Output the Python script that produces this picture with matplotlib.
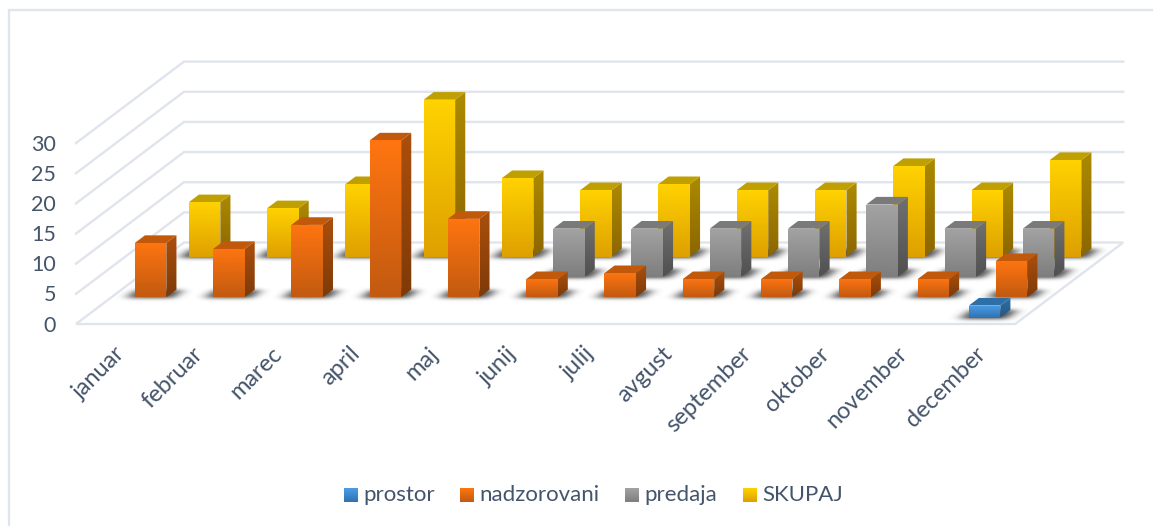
import numpy as np
import matplotlib
matplotlib.use("Agg")
import matplotlib.pyplot as plt
from matplotlib.patches import Polygon
from matplotlib.colors import LinearSegmentedColormap

months = ["januar", "februar", "marec", "april", "maj", "junij", "julij",
          "avgust", "september", "oktober", "november", "december"]
series_names = ["prostor", "nadzorovani", "predaja", "SKUPAJ"]
prostor = [0, 0, 0, 0, 0, 0, 0, 0, 0, 0, 0, 2]
nadzorovani = [9, 8, 12, 26, 13, 3, 4, 3, 3, 3, 3, 6]
predaja = [0, 0, 0, 0, 0, 8, 8, 8, 8, 12, 8, 8]
skupaj = [9, 8, 12, 26, 13, 11, 12, 11, 11, 15, 11, 16]
all_values = [prostor, nadzorovani, predaja, skupaj]
y_ticks = [0, 5, 10, 15, 20, 25, 30]

front_cols = [("#4A9DE8", "#2F72B0"), ("#FF7510", "#C25A10"),
              ("#A3A3A3", "#7E7E7E"), ("#FFD200", "#DEA000")]
side_cols = [("#2F6FA8", "#25577F"), ("#AB4F0C", "#7E3A08"),
             ("#707070", "#505050"), ("#AC8A00", "#8C6600")]
top_cols = ["#2E6FA8", "#C2580A", "#7A7A7A", "#C0A000"]

GRID = "#E0E4EC"
TXT = "#44546A"
plt.rcParams["font.family"] = ["Lato", "DejaVu Sans"]

fig = plt.figure(figsize=(11.53, 5.26), dpi=100)
ax = fig.add_axes([0, 0, 1, 1])

X0, Y0 = 76.0, 324.0
CAT_W = 78.27
DX, DY = 108.0, 81.5
U = 6.03
BAR_W = 31.5
DEPTH_N = 4
BAR_D = 0.375


def proj(cat, depth, val):
    """cat in category units, depth in series units, val in value units."""
    return (X0 + cat * CAT_W + depth / DEPTH_N * DX,
            Y0 - depth / DEPTH_N * DY - val * U)


def grad_img(c1, c2):
    cm = LinearSegmentedColormap.from_list("g", [c1, c2])
    return cm(np.linspace(0, 1, 64))[:, None, :]


def gradient_poly(pts, c1, c2, z):
    pts = np.array(pts)
    im = ax.imshow(grad_img(c1, c2),
                   extent=(pts[:, 0].min(), pts[:, 0].max(), pts[:, 1].max(), pts[:, 1].min()),
                   aspect="auto", zorder=z, interpolation="bilinear")
    clip = Polygon(pts, closed=True, transform=ax.transData, fc="none", ec="none")
    ax.add_patch(clip)
    im.set_clip_path(clip)


def gauss(sigma):
    r = int(3 * sigma) + 1
    k = np.exp(-0.5 * (np.arange(-r, r + 1) / sigma) ** 2)
    return k / k.sum()


KX, KY = gauss(5.5), gauss(1.8)


def soft_shadow(a, b, d, z, peak=0.72):
    """Blurred parallelogram on the floor: a, b are the near corners, d the far-left one."""
    xs = np.arange(int(a[0]) - 40, int(b[0]) + int(d[0] - a[0]) + 41)
    ys = np.arange(int(d[1]) - 10, int(a[1]) + 11)
    gx, gy = np.meshgrid(xs + 0.5, ys + 0.5)
    t = (a[1] - gy) / (a[1] - d[1])
    left = a[0] + t * (d[0] - a[0])
    mask = ((t >= 0) & (t <= 1) & (gx >= left) & (gx <= left + (b[0] - a[0]))).astype(float)
    mask = np.apply_along_axis(lambda r: np.convolve(r, KX, mode="same"), 1, mask)
    mask = np.apply_along_axis(lambda c: np.convolve(c, KY, mode="same"), 0, mask)
    rgba = np.zeros(mask.shape + (4,))
    rgba[..., :3] = 0.22
    rgba[..., 3] = np.clip(mask * peak * 1.25, 0, 1)
    ax.imshow(rgba, extent=(xs[0], xs[-1] + 1, ys[-1] + 1, ys[0]), aspect="auto", zorder=z,
              interpolation="bilinear")


# frame: only the top and left edges show in the reference
ax.plot([9, 9, 1153], [526, 10, 10], color=GRID, lw=1.7, zorder=0.5, solid_joinstyle="miter")

# walls / grid
for v in y_ticks[1:]:
    a = proj(0, 0, v)
    b = proj(0, DEPTH_N, v)
    c = proj(12, DEPTH_N, v)
    ax.plot([a[0], b[0], c[0]], [a[1], b[1], c[1]], color=GRID, lw=1.7, zorder=1,
            solid_joinstyle="miter")
fl = [proj(0, 0, 0), proj(0, DEPTH_N, 0), proj(12, DEPTH_N, 0), proj(12, 0, 0)]
ax.add_patch(Polygon(fl, closed=True, fc="white", ec=GRID, lw=1.7, zorder=1.5))

bar_margin_cat = (CAT_W - BAR_W) / 2 / CAT_W
bar_cat = BAR_W / CAT_W
gap = (1 - BAR_D) / 2
z = 3.0
for s in range(3, -1, -1):
    vals = all_values[s]
    for i, v in enumerate(vals):
        if v <= 0:
            continue
        c0, c1 = i + bar_margin_cat, i + bar_margin_cat + bar_cat
        d0, d1 = s + gap, s + gap + BAR_D
        soft_shadow(proj(c0 - 0.10, d0 - 0.06, 0), proj(c1 + 0.10, d0 - 0.06, 0),
                    proj(c0 - 0.10, d1, 0), z)
        z += 0.01
        gradient_poly([proj(c1, d0, v), proj(c1, d1, v), proj(c1, d1, 0), proj(c1, d0, 0)],
                      side_cols[s][0], side_cols[s][1], z)
        ax.add_patch(Polygon([proj(c0, d0, v), proj(c1, d0, v), proj(c1, d1, v), proj(c0, d1, v)],
                             closed=True, fc=top_cols[s], ec="none", zorder=z))
        gradient_poly([proj(c0, d0, v), proj(c1, d0, v), proj(c1, d0, 0), proj(c0, d0, 0)],
                      front_cols[s][0], front_cols[s][1], z + 0.001)
        z += 0.01

# y tick labels
for v in y_ticks:
    ax.text(56, proj(0, 0, v)[1] + 1.5, str(v), ha="right", va="center", fontsize=15.5, color=TXT,
            zorder=100)

# month labels
for i, m in enumerate(months):
    px, py = proj(i + 0.5, 0, 0)
    ax.text(px - 1, py + 19, m, rotation=45, rotation_mode="anchor", ha="right", va="top",
            fontsize=17, color=TXT, zorder=100)

# legend
leg_x = [344, 460, 625, 743]
txt_x = [363, 479, 644, 762]
for s, name in enumerate(series_names):
    gradient_poly([(leg_x[s], 488), (leg_x[s] + 14, 488), (leg_x[s] + 14, 502), (leg_x[s], 502)],
                  front_cols[s][0], front_cols[s][1], 100)
    ax.text(txt_x[s], 495, name, ha="left", va="center", fontsize=16, color=TXT, zorder=100)

ax.set_xlim(0, 1153)
ax.set_ylim(526, 0)
ax.axis("off")
fig.savefig("out.png", dpi=100)
